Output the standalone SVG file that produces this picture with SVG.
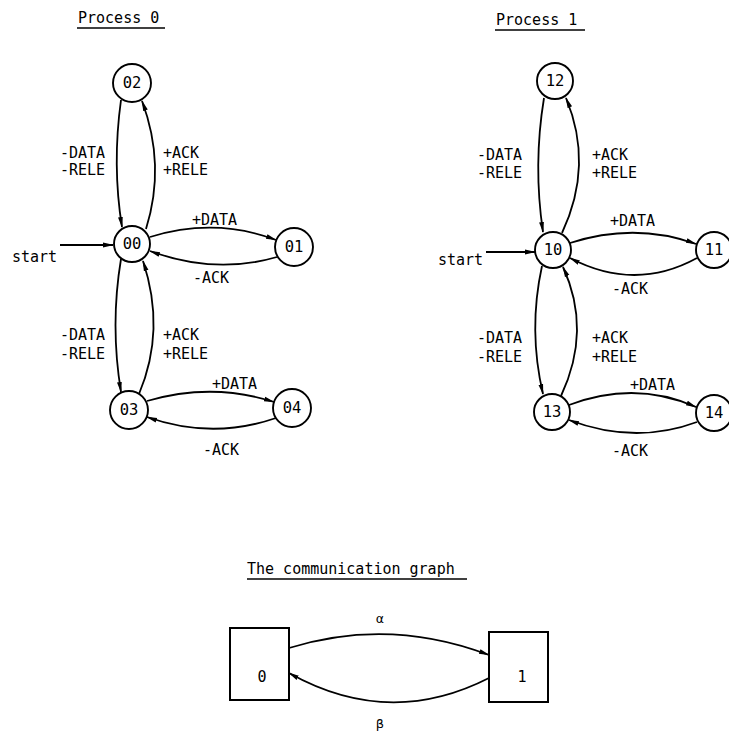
<svg xmlns="http://www.w3.org/2000/svg" width="729" height="736" viewBox="0 0 729 736">
<style>
text{font-family:"DejaVu Sans Mono","Liberation Mono",monospace;font-size:15px;fill:#000}
.nl{text-anchor:middle;dominant-baseline:central;font-size:15.5px}
.st{fill:#fff;stroke:#000;stroke-width:1.9}
.e{fill:none;stroke:#000;stroke-width:1.8;marker-end:url(#ah)}
.u{stroke:#000;stroke-width:1.3}
</style>
<defs>
<marker id="ah" markerUnits="userSpaceOnUse" markerWidth="12" markerHeight="8" refX="10" refY="3" orient="auto">
<path d="M0,0.6 L11,3 L0,5.4 Z" fill="#000"/>
</marker>
</defs>
<rect width="729" height="736" fill="#fff"/>

<g id="titles">
<text x="78" y="23">Process 0</text>
<line class="u" x1="77" y1="28" x2="165" y2="28"/>
<text x="496" y="25">Process 1</text>
<line class="u" x1="495" y1="30" x2="585" y2="30"/>
<text x="247" y="574">The communication graph</text>
<line class="u" x1="247" y1="579" x2="467" y2="579"/>
</g>

<g id="connectors">
<!-- Process 0 -->
<path class="e" d="M60,245 L113,245"/>
<path class="e" d="M121,100 Q112,165 122,227"/>
<path class="e" d="M146,229 Q166,165 142,101"/>
<path class="e" d="M150,237 Q215,217 276,240"/>
<path class="e" d="M277,257 Q215,275 150,251"/>
<path class="e" d="M121,259 Q110,325 121,392"/>
<path class="e" d="M139,394 Q166,330 143,261"/>
<path class="e" d="M147,401 Q212,382 274,402"/>
<path class="e" d="M276,418 Q212,440 147,417"/>
<!-- Process 1 -->
<path class="e" d="M486,252 L535,252"/>
<path class="e" d="M544,98 Q533,165 543,232"/>
<path class="e" d="M562,233 Q594,165 566,98"/>
<path class="e" d="M570,243 Q635,222 696,244"/>
<path class="e" d="M697,258 Q635,292 570,258"/>
<path class="e" d="M542,266 Q528,330 543,394"/>
<path class="e" d="M561,396 Q592,330 563,267"/>
<path class="e" d="M569,405 Q635,380 696,407"/>
<path class="e" d="M697,422 Q635,445 569,420"/>
<!-- communication graph -->
<path class="e" d="M289,648 Q389,617 489,655"/>
<path class="e" d="M489,678 Q389,729 289,673"/>
</g>

<g id="labels">
<text x="12" y="262">start</text>
<text x="60" y="158">-DATA</text>
<text x="60" y="175">-RELE</text>
<text x="163" y="158">+ACK</text>
<text x="163" y="175">+RELE</text>
<text x="192" y="225">+DATA</text>
<text x="193" y="283">-ACK</text>
<text x="60" y="340">-DATA</text>
<text x="60" y="359">-RELE</text>
<text x="163" y="340">+ACK</text>
<text x="163" y="359">+RELE</text>
<text x="212" y="389">+DATA</text>
<text x="203" y="455">-ACK</text>

<text x="438" y="265">start</text>
<text x="477" y="160">-DATA</text>
<text x="477" y="178">-RELE</text>
<text x="592" y="160">+ACK</text>
<text x="592" y="178">+RELE</text>
<text x="610" y="226">+DATA</text>
<text x="612" y="294">-ACK</text>
<text x="477" y="343">-DATA</text>
<text x="477" y="362">-RELE</text>
<text x="592" y="343">+ACK</text>
<text x="592" y="362">+RELE</text>
<text x="630" y="390">+DATA</text>
<text x="612" y="456">-ACK</text>

<text x="380" y="623" style="text-anchor:middle;font-size:13px">α</text>
<text x="380" y="728" style="text-anchor:middle;font-size:13px">β</text>
</g>

<g id="n02"><circle class="st" cx="132" cy="83" r="19"/><text class="nl" x="132" y="83">02</text></g>
<g id="n00"><circle class="st" cx="132" cy="244" r="18"/><text class="nl" x="132" y="244">00</text></g>
<g id="n01"><circle class="st" cx="294" cy="247" r="19"/><text class="nl" x="294" y="247">01</text></g>
<g id="n03"><circle class="st" cx="129" cy="410" r="19"/><text class="nl" x="129" y="410">03</text></g>
<g id="n04"><circle class="st" cx="292" cy="408" r="19"/><text class="nl" x="292" y="408">04</text></g>

<g id="n12"><circle class="st" cx="555" cy="81" r="18"/><text class="nl" x="555" y="81">12</text></g>
<g id="n10"><circle class="st" cx="553" cy="250" r="18"/><text class="nl" x="553" y="250">10</text></g>
<g id="n11"><circle class="st" cx="714" cy="250" r="18"/><text class="nl" x="714" y="250">11</text></g>
<g id="n13"><circle class="st" cx="552" cy="412" r="18"/><text class="nl" x="552" y="412">13</text></g>
<g id="n14"><circle class="st" cx="714" cy="413" r="18"/><text class="nl" x="714" y="413">14</text></g>

<g id="box0"><rect x="230" y="628" width="59" height="72" fill="#fff" stroke="#000" stroke-width="2"/><text x="262" y="682" style="text-anchor:middle;font-size:15px">0</text></g>
<g id="box1"><rect x="489" y="632" width="59" height="70" fill="#fff" stroke="#000" stroke-width="2"/><text x="522" y="682" style="text-anchor:middle;font-size:15px">1</text></g>
</svg>
